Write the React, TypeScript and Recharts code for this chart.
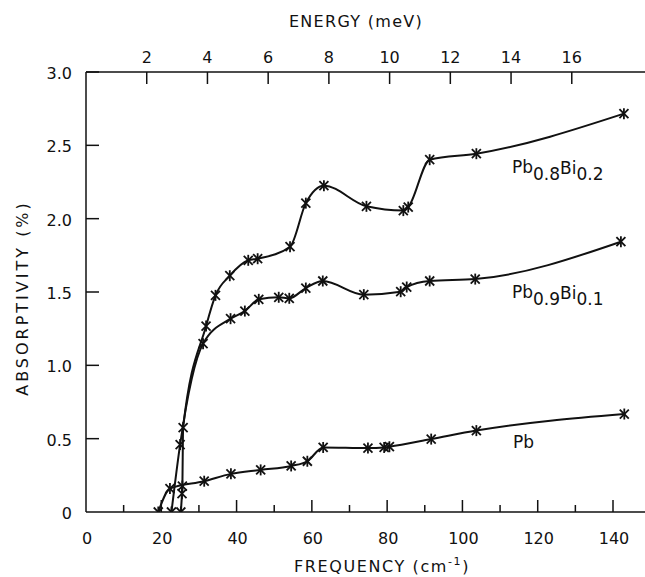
import React from 'react';
import { LineChart, Line, XAxis, YAxis } from 'recharts';

// Pb
const pbFreq = [19.2, 22.3, 31.4, 38.5, 46.4, 54.5, 58.8, 63.0, 74.9, 79.2, 80.6, 91.7, 103.7, 143.0];
const pbAbs = [0, 0.16, 0.21, 0.26, 0.287, 0.314, 0.346, 0.44, 0.436, 0.44, 0.445, 0.497, 0.555, 0.668];

// Pb0.9Bi0.1
const pb9Freq = [22.7, 25.0, 31.1, 38.4, 42.2, 45.9, 51.2, 54.0, 58.4, 62.9, 73.8, 83.6, 85.2, 91.3, 103.4, 142.1];
const pb9Abs = [0, 0.46, 1.148, 1.318, 1.37, 1.45, 1.464, 1.457, 1.527, 1.575, 1.482, 1.502, 1.534, 1.575, 1.588, 1.843];

// Pb0.8Bi0.2
const pb8Freq = [25.2, 25.5, 25.6, 25.8, 31.9, 34.4, 38.2, 43.1, 45.6, 54.2, 58.4, 63.2, 74.5, 84.3, 85.6, 91.3, 103.7, 142.9];
const pb8Abs = [0, 0.125, 0.177, 0.575, 1.268, 1.477, 1.611, 1.716, 1.727, 1.809, 2.106, 2.225, 2.084, 2.055, 2.079, 2.402, 2.443, 2.716];

const freqTicks = [0, 10, 20, 30, 40, 50, 60, 70, 80, 90, 100, 110, 120, 130, 140];
const energyTicks = [2, 4, 6, 8, 10, 12, 14, 16];
const absTicks = [0, 0.5, 1, 1.5, 2, 2.5, 3];
const rightTicks = [0.5, 1, 1.5, 2, 2.5];
const CM_PER_MEV = 8.0655;
// the frame runs a little past 140 cm-1, out to the picture's right edge
const FREQ_MAX = 148.5;

const toRows = (f: number[], a: number[]) => f.map((v, i) => ({ f: v, a: a[i] }));
const pbData = toRows(pbFreq, pbAbs);
const pb9Data = toRows(pb9Freq, pb9Abs);
const pb8Data = toRows(pb8Freq, pb8Abs);

const INK = '#111';
const FONT = '"DejaVu Sans", sans-serif';

const Star = (p: any) => {
  const { cx, cy } = p;
  if (cx == null || cy == null) return null;
  const s = 4.5;
  return (
    <g stroke={INK} strokeWidth={1.8}>
      <line x1={cx - s} y1={cy - s} x2={cx + s} y2={cy + s} />
      <line x1={cx - s} y1={cy + s} x2={cx + s} y2={cy - s} />
      <line x1={cx} y1={cy - 5.5} x2={cx} y2={cy + 5.5} />
    </g>
  );
};

const BottomTick = ({ x, y, payload }: any) => {
  const v = payload.value;
  const major = v % 20 === 0;
  return (
    <g>
      {v !== 0 && <line x1={x} x2={x} y1={y} y2={y - (major ? 12 : 7)} stroke={INK} strokeWidth={1.5} />}
      {major && (
        <text x={x + 1} y={y + 32} textAnchor="middle" fontSize={16} fontFamily={FONT} fill={INK}>
          {v}
        </text>
      )}
    </g>
  );
};

const TopTick = ({ x, y, payload }: any) => (
  <g>
    <line x1={x} x2={x} y1={y} y2={y + 12} stroke={INK} strokeWidth={1.5} />
    <text x={x} y={y - 9} textAnchor="middle" fontSize={16} fontFamily={FONT} fill={INK}>
      {Math.round(payload.value / CM_PER_MEV)}
    </text>
  </g>
);

const LeftTick = ({ x, y, payload }: any) => {
  const v = payload.value;
  return (
    <g>
      {v !== 0 && <line x1={x} x2={x + 13} y1={y} y2={y} stroke={INK} strokeWidth={1.5} />}
      <text x={x - 14} y={y + 7} textAnchor="end" fontSize={16} fontFamily={FONT} fill={INK}>
        {v === 0 ? '0' : v.toFixed(1)}
      </text>
    </g>
  );
};

const RightTick = ({ x, y }: any) => (
  <line x1={x - 6} x2={x} y1={y} y2={y} stroke={INK} strokeWidth={1.5} />
);

export default function App() {
  return (
    <div style={{ position: 'fixed', left: 0, top: 0, width: 645, height: 577, overflow: 'hidden', background: '#fff' }}>
      <LineChart width={645} height={577} margin={{ top: 42, right: 0, bottom: 35, left: 26 }}>
        <XAxis
          xAxisId="bottom"
          dataKey="f"
          type="number"
          domain={[0, FREQ_MAX]}
          ticks={freqTicks}
          interval={0}
          height={30}
          tickSize={0}
          tickMargin={0}
          tickLine={false}
          tick={<BottomTick />}
          axisLine={{ stroke: INK, strokeWidth: 1.5 }}
          allowDataOverflow
        />
        <XAxis
          xAxisId="top"
          orientation="top"
          dataKey="f"
          type="number"
          domain={[0, FREQ_MAX]}
          ticks={energyTicks.map((e) => e * CM_PER_MEV)}
          interval={0}
          height={30}
          tickSize={0}
          tickMargin={0}
          tickLine={false}
          tick={<TopTick />}
          axisLine={{ stroke: INK, strokeWidth: 1.5 }}
          allowDataOverflow
        />
        <YAxis
          yAxisId="left"
          type="number"
          domain={[0, 3]}
          ticks={absTicks}
          interval={0}
          width={60}
          tickSize={0}
          tickMargin={0}
          tickLine={false}
          tick={<LeftTick />}
          axisLine={{ stroke: INK, strokeWidth: 1.5 }}
          allowDataOverflow
        />
        <YAxis
          yAxisId="right"
          orientation="right"
          type="number"
          domain={[0, 3]}
          ticks={rightTicks}
          interval={0}
          width={0}
          tickSize={0}
          tickMargin={0}
          tickLine={false}
          tick={<RightTick />}
          axisLine={false}
          allowDataOverflow
        />
        <Line
          data={pb8Data}
          dataKey="a"
          xAxisId="bottom"
          yAxisId="left"
          type="monotone"
          stroke={INK}
          strokeWidth={2}
          dot={(p: any) => <Star key={p.index} {...p} />}
          activeDot={false}
          isAnimationActive={false}
        />
        <Line
          data={pb9Data}
          dataKey="a"
          xAxisId="bottom"
          yAxisId="left"
          type="monotone"
          stroke={INK}
          strokeWidth={2}
          dot={(p: any) => <Star key={p.index} {...p} />}
          activeDot={false}
          isAnimationActive={false}
        />
        {/* same cm-1 / % scales, tied to the top and right axes so they draw */}
        <Line
          data={pbData}
          dataKey="a"
          xAxisId="top"
          yAxisId="right"
          type="monotone"
          stroke={INK}
          strokeWidth={2}
          dot={(p: any) => <Star key={p.index} {...p} />}
          activeDot={false}
          isAnimationActive={false}
        />
      </LineChart>
      <svg width={645} height={577} style={{ position: 'absolute', left: 0, top: 0, pointerEvents: 'none' }}>
        <g fontFamily={FONT} fill={INK}>
          <text x={356} y={27} textAnchor="middle" fontSize={16} letterSpacing={1.3}>
            ENERGY (meV)
          </text>
          <text x={382} y={572} textAnchor="middle" fontSize={16} letterSpacing={1.6}>
            FREQUENCY (cm<tspan fontSize={11} dy={-7}>-1</tspan>
            <tspan dy={7}>)</tspan>
          </text>
          <text
            x={28}
            y={298}
            textAnchor="middle"
            fontSize={16}
            letterSpacing={3}
            transform="rotate(-90 28 298)"
          >
            ABSORPTIVITY (%)
          </text>
          <text x={512} y={173} fontSize={17}>
            Pb<tspan dy={7}>0.8</tspan>
            <tspan dy={-6}>Bi</tspan>
            <tspan dy={6}>0.2</tspan>
          </text>
          <text x={512} y={298} fontSize={17}>
            Pb<tspan dy={7}>0.9</tspan>
            <tspan dy={-6}>Bi</tspan>
            <tspan dy={6}>0.1</tspan>
          </text>
          <text x={513} y={448} fontSize={17}>
            Pb
          </text>
        </g>
      </svg>
    </div>
  );
}
